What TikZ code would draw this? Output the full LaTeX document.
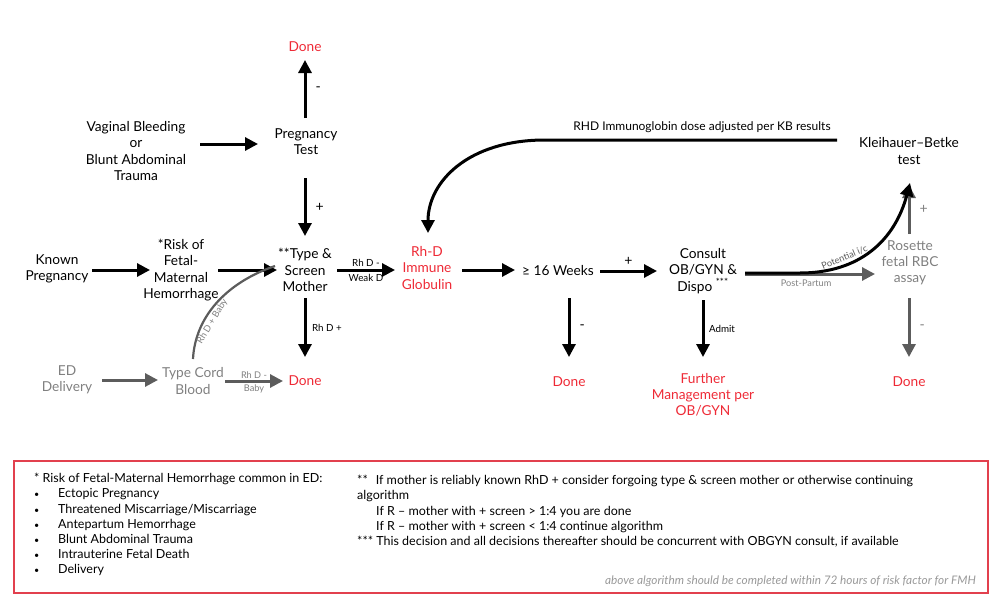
\documentclass[tikz,border=0pt]{standalone}
\usepackage{fontspec}
\setmainfont{Lato}
\usetikzlibrary{arrows.meta,calc}
\definecolor{rd}{HTML}{EE2A36}
\definecolor{gtxt}{HTML}{808080}
\definecolor{garr}{HTML}{5C5C5C}
\definecolor{boxred}{HTML}{E2404E}
\newcommand{\bul}{\makebox[24pt][l]{\fontsize{9}{9}\selectfont •}}
\begin{document}
\begin{tikzpicture}[x=1pt,y=-1pt,
 lbl/.style={align=center,font=\fontsize{13.7}{16.2}\selectfont,inner sep=1pt},
 redlbl/.style={lbl,text=rd},
 graylbl/.style={lbl,text=gtxt},
 arr/.style={line width=3pt,-{Triangle[length=13pt,width=13pt]}},
 garrow/.style={arr,draw=garr,fill=garr},
 sm/.style={font=\fontsize{9.8}{11}\selectfont,inner sep=1.5pt},
 tiny/.style={font=\fontsize{9.2}{10}\selectfont,inner sep=1.5pt,text=gtxt},
 pm/.style={font=\fontsize{14}{14}\selectfont,inner sep=1pt},
 boxtxt/.style={font=\fontsize{12.5}{15.2}\selectfont,align=left,inner sep=0pt,anchor=north west}
]
\useasboundingbox (0,0) rectangle (1000,602);

% nodes
\node[redlbl] (done1) at (305,47) {Done};
\node[lbl] (preg) at (306,142) {Pregnancy\\Test};
\node[lbl] (vag) at (136,151) {Vaginal Bleeding\\or\\Blunt Abdominal\\Trauma};
\node[lbl] (known) at (57,269) {Known\\Pregnancy};
\node[lbl] (risk) at (181,270) {*Risk of\\Fetal-\\Maternal\\Hemorrhage};
\node[lbl] (ts) at (305,270) {**Type \&\\Screen\\Mother};
\node[redlbl] (rhig) at (427,268) {Rh-D\\Immune\\Globulin};
\node[lbl] (wk) at (558,271) {≥ 16 Weeks};
\node[lbl] (cons) at (703,271) {Consult\\OB/GYN \&\\Dispo \textsuperscript{***}};
\node[lbl] (kb) at (909,151) {Kleihauer–Betke\\test};
\node[graylbl] (ros) at (910,263) {Rosette\\fetal RBC\\assay};
\node[redlbl] (done2) at (305,381) {Done};
\node[redlbl] (done3) at (569,382) {Done};
\node[redlbl] (fm) at (703,395) {Further\\Management per\\OB/GYN};
\node[redlbl] (done4) at (909,382) {Done};
\node[graylbl] (ed) at (67,380) {ED\\Delivery};
\node[graylbl] (tcb) at (193,381) {Type Cord\\Blood};

% black arrows
\draw[arr] ($(preg)+(-1,-24)$) -- ($(done1)+(0,13)$) node[midway,right=8pt,pm]{-};
\draw[arr] ($(vag)+(64,-7)$) -- ($(preg)+(-48,2)$);
\draw[arr] ($(preg)+(-1,36)$) -- ($(ts)+(0,-34)$) node[midway,right=8pt,pm]{+};
\draw[arr] ($(known)+(35,1)$) -- ($(risk)+(-31,0)$);
\draw[arr] ($(risk)+(37,0)$) -- ($(ts)+(-28,0)$);
\draw[arr] ($(ts)+(32,0)$) -- ($(rhig)+(-32,2)$)
  node[midway,above=1pt,sm]{Rh D -} node[midway,below=1pt,sm]{Weak D};
\draw[arr] ($(rhig)+(35,2)$) -- ($(wk)+(-43,-1)$);
\draw[arr] ($(wk)+(42,0)$) -- ($(cons)+(-46,0)$)
  node[midway,above=3pt,pm]{+};
\draw[arr] ($(ts)+(0,28)$) -- ($(done2)+(0,-24)$)
  node[midway,right=4pt,sm]{Rh D +};
\draw[arr] ($(wk)+(11,27)$) -- ($(done3)+(0,-25)$)
  node[midway,right=8pt,pm]{-};
\draw[arr] ($(cons)+(0,29)$) -- ($(fm)+(0,-38)$)
  node[midway,right=3pt,sm]{Admit};

% gray arrows
\draw[garrow] ($(ed)+(35,0)$) -- ($(tcb)+(-35,-1)$);
\draw[garrow] ($(tcb)+(32,0)$) -- ($(done2)+(-22,0)$)
  node[midway,above=0pt,tiny]{Rh D -} node[midway,below=1pt,tiny]{Baby};
\draw[garrow] ($(ros)+(-1,35)$) -- ($(done4)+(0,-25)$)
  node[midway,right=8pt,pm,text=gtxt]{-};
\draw[garrow] ($(ros)+(-1,-29)$) -- ($(kb)+(0,34)$)
  node[midway,right=8pt,pm,text=gtxt]{+};
\draw[garrow] ($(cons)+(42,3)$) -- ($(ros)+(-35,11)$)
  node[pos=0.47,below=3pt,tiny]{Post-Partum};
\draw[line width=2.2pt,draw=garr] ($(tcb)+(0,-22)$) .. controls (195,318) and (225,283) .. ($(ts)+(-30,-4)$)
  node[pos=0.36,sloped,below=1pt,tiny]{Rh D + Baby};

% black curves
\draw[arr] ($(cons)+(42,2)$) -- (800,273) .. controls (860,273) and (895,240) .. ($(kb)+(1,32)$)
  node[pos=0.3,sloped,above=1pt,tiny,text=black!65]{Potential i/c};
\draw[arr] ($(kb)+(-72,-11)$) -- (545,140) .. controls (468,140) and (428,182) .. ($(rhig)+(1,-35)$);
\node[font=\fontsize{12}{13}\selectfont,inner sep=1pt] (rhdlbl) at (702,127) {RHD Immunoglobin dose adjusted per KB results};

% legend box
\draw[boxred,line width=1.8pt] (14,461) rectangle (988,593);
\node[boxtxt] (leg1) at (34,473) {* Risk of Fetal-Maternal Hemorrhage common in ED:\\
\bul Ectopic Pregnancy\\
\bul Threatened Miscarriage/Miscarriage\\
\bul Antepartum Hemorrhage\\
\bul Blunt Abdominal Trauma\\
\bul Intrauterine Fetal Death\\
\bul Delivery};
\node[boxtxt] (leg2) at (357,475) {**\hspace{8pt}If mother is reliably known RhD + consider forgoing type \& screen mother or otherwise continuing\\
algorithm\\
\hspace{19pt}If R – mother with + screen > 1:4 you are done\\
\hspace{19pt}If R – mother with + screen < 1:4 continue algorithm\\
*** This decision and all decisions thereafter should be concurrent with OBGYN consult, if available};
\node[font=\fontsize{11.8}{13}\selectfont\itshape,text=black!40,anchor=east,inner sep=0pt] (foot) at (976,581)
  {above algorithm should be completed within 72 hours of risk factor for FMH};
\end{tikzpicture}
\end{document}
